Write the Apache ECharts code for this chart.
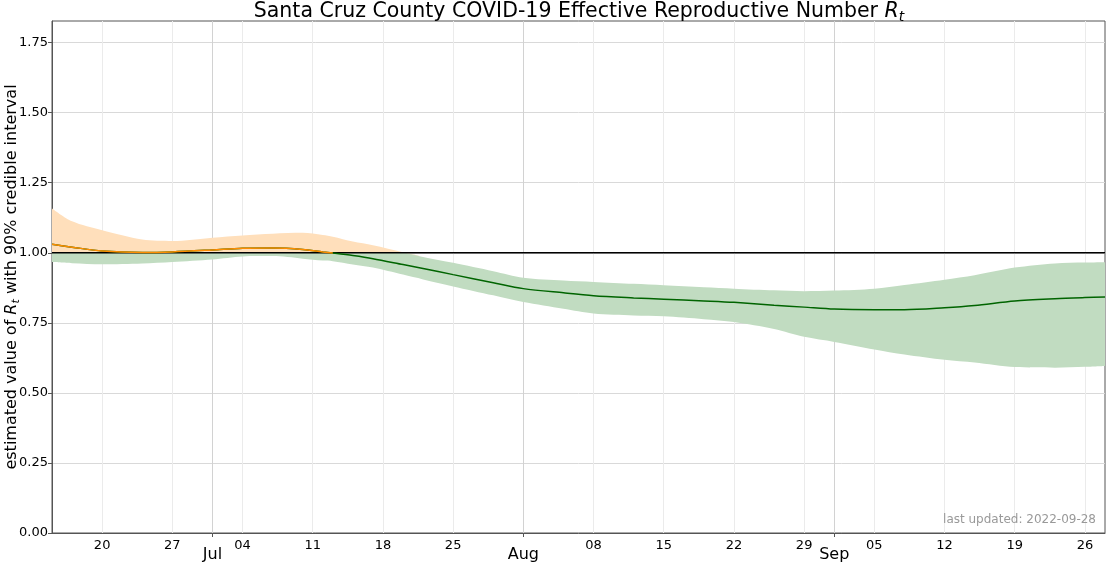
<!DOCTYPE html>
<html>
<head>
<meta charset="utf-8">
<script src="https://cdn.jsdelivr.net/npm/echarts@6/dist/echarts.min.js"></script>
<style>
  html, body { margin: 0; padding: 0; background: #fff; }
  #rt-chart { width: 1110px; height: 563px; }
</style>
</head>
<body>
<div id="rt-chart"></div>
<script>
  // days since 2022-06-15
  const startDate = '2022-06-15'
  const numDays = 106
  const dayOffsets = [0, 2, 5, 9, 12, 16, 19, 22, 25, 27, 28, 30, 32, 35, 37, 40, 44, 47, 51, 54, 58, 61, 65, 68, 72, 75, 78, 82, 85, 89, 92, 96, 100, 103, 105]
  const rtMedian = [1.030, 1.020, 1.006, 1.001, 1.003, 1.010, 1.016, 1.017, 1.012, 1.003, 0.999, 0.990, 0.979, 0.958, 0.944, 0.922, 0.893, 0.872, 0.857, 0.847, 0.839, 0.834, 0.828, 0.823, 0.813, 0.806, 0.799, 0.797, 0.797, 0.804, 0.812, 0.828, 0.836, 0.840, 0.842]
  const rtUpper = [1.158, 1.112, 1.080, 1.047, 1.042, 1.054, 1.062, 1.068, 1.071, 1.063, 1.057, 1.040, 1.027, 1.002, 0.985, 0.964, 0.934, 0.911, 0.901, 0.896, 0.889, 0.884, 0.877, 0.872, 0.866, 0.863, 0.865, 0.872, 0.885, 0.904, 0.920, 0.947, 0.962, 0.965, 0.966]
  const rtLower = [0.967, 0.963, 0.959, 0.962, 0.967, 0.976, 0.987, 0.988, 0.979, 0.972, 0.970, 0.958, 0.947, 0.922, 0.905, 0.880, 0.848, 0.824, 0.800, 0.783, 0.776, 0.773, 0.763, 0.753, 0.728, 0.700, 0.682, 0.655, 0.637, 0.618, 0.608, 0.592, 0.590, 0.593, 0.596]
  const threshold = 1

  const weekTicks = [5, 12, 19, 26, 33, 40, 54, 61, 68, 75, 82, 89, 96, 103]
  const monthTicks = [16, 47, 78]
  const monthNames = ['Jan', 'Feb', 'Mar', 'Apr', 'May', 'Jun', 'Jul', 'Aug', 'Sep', 'Oct', 'Nov', 'Dec']
  const yTicks = [0, 0.25, 0.5, 0.75, 1.0, 1.25, 1.5, 1.75]

  const fontFamily = 'DejaVu Sans'
  const base = new Date(startDate + 'T00:00:00Z').getTime()
  function dayToDate(d) {
    return new Date(base + d * 86400000)
  }
  function dayName(d) {
    return dayToDate(d).toISOString().slice(0, 10)
  }

  let categories = []
  for (let d = 0; d < numDays; d++) {
    categories.push(dayName(d))
  }

  let lowerData = []
  let greenData = []
  let orangeData = []
  let medianData = []
  let medianAboveData = []
  for (let i = 0; i < dayOffsets.length; i++) {
    let c = dayName(dayOffsets[i])
    let top = Math.min(rtUpper[i], threshold)
    lowerData.push([c, rtLower[i]])
    greenData.push([c, top - rtLower[i]])
    orangeData.push([c, Math.max(rtUpper[i] - threshold, 0)])
    medianData.push([c, rtMedian[i]])
    if (i === 0 || rtMedian[i - 1] >= threshold) {
      medianAboveData.push([c, rtMedian[i]])
    }
  }
  let thresholdData = [[categories[0], threshold], [categories[numDays - 1], threshold]]

  function isWeek(index) {
    return weekTicks.indexOf(index) >= 0
  }
  function isMonth(index) {
    return monthTicks.indexOf(index) >= 0
  }

  let chart = echarts.init(document.getElementById('rt-chart'))
  let option = {
    animation: false,
    textStyle: {fontFamily: fontFamily},
    grid: {
      left: 52,
      right: 5,
      top: 21,
      bottom: 30,
      containLabel: false,
      outerBoundsMode: 'none',
      show: true,
      borderColor: '#555',
      borderWidth: 1
    },
    graphic: [
      {
        type: 'text',
        x: 579,
        y: 0,
        z: 10,
        style: {
          text: '{a|Santa Cruz County COVID-19 Effective Reproductive Number }{r|R}{s|t}',
          align: 'center',
          verticalAlign: 'top',
          rich: {
            a: {fontSize: 20.5, fontFamily: fontFamily, fill: '#000', lineHeight: 24},
            r: {fontSize: 20.5, fontFamily: fontFamily, fontStyle: 'italic', fill: '#000', lineHeight: 24},
            s: {fontSize: 14, fontFamily: fontFamily, fontStyle: 'italic', fill: '#000', lineHeight: 12, verticalAlign: 'bottom'}
          }
        }
      },
      {
        // y axis title, rotated
        type: 'text',
        x: 12,
        y: 277,
        rotation: Math.PI / 2,
        z: 10,
        style: {
          text: '{a|estimated value of }{r|R}{s|t}{a| with 90% credible interval}',
          align: 'center',
          verticalAlign: 'middle',
          rich: {
            a: {fontSize: 16, fontFamily: fontFamily, fill: '#000', lineHeight: 20},
            r: {fontSize: 16, fontFamily: fontFamily, fontStyle: 'italic', fill: '#000', lineHeight: 20},
            s: {fontSize: 11, fontFamily: fontFamily, fontStyle: 'italic', fill: '#000', lineHeight: 10, verticalAlign: 'bottom'}
          }
        }
      },
      {
        type: 'text',
        right: 14,
        top: 514,
        z: 10,
        style: {
          text: 'last updated: 2022-09-28',
          fill: '#999',
          font: '12px "DejaVu Sans"'
        }
      }
    ],
    xAxis: [
      {
        type: 'category',
        data: categories,
        boundaryGap: false,
        axisLine: {lineStyle: {color: '#555', width: 1}},
        axisTick: {show: false},
        axisLabel: {
          interval: isWeek,
          color: '#000',
          fontSize: 13,
          margin: 6,
          formatter: function(v) {
            return v.slice(8, 10)
          }
        },
        splitLine: {show: true, interval: isWeek, lineStyle: {color: '#ebebeb', width: 1}}
      },
      {
        type: 'category',
        data: categories,
        boundaryGap: false,
        position: 'bottom',
        axisLine: {show: false},
        axisTick: {show: true, interval: isMonth, length: 4, lineStyle: {color: '#555'}},
        axisLabel: {
          interval: isMonth,
          color: '#000',
          fontSize: 16,
          margin: 14,
          formatter: function(v) {
            return monthNames[parseInt(v.slice(5, 7), 10) - 1]
          }
        },
        splitLine: {show: true, interval: isMonth, lineStyle: {color: '#d2d2d2', width: 1}}
      }
    ],
    yAxis: {
      type: 'value',
      min: 0,
      max: 1.827,
      axisLine: {show: true, lineStyle: {color: '#555', width: 1}},
      axisTick: {show: true, length: 4, customValues: yTicks, lineStyle: {color: '#555'}},
      axisLabel: {
        customValues: yTicks,
        color: '#000',
        fontSize: 13,
        margin: 4,
        formatter: function(v) {
          return v.toFixed(2)
        }
      },
      splitLine: {show: true, lineStyle: {color: '#d9d9d9', width: 1}}
    },
    series: [
      {
        name: 'base',
        type: 'line',
        stack: 'band',
        smooth: 0.3,
        data: lowerData,
        symbol: 'none',
        lineStyle: {opacity: 0},
        silent: true
      },
      {
        name: 'below',
        type: 'line',
        stack: 'band',
        smooth: 0.3,
        data: greenData,
        symbol: 'none',
        lineStyle: {opacity: 0},
        areaStyle: {color: '#c1dcc1', opacity: 1},
        silent: true
      },
      {
        name: 'above',
        type: 'line',
        stack: 'band',
        smooth: 0.3,
        data: orangeData,
        symbol: 'none',
        lineStyle: {opacity: 0},
        areaStyle: {color: '#ffdfbb', opacity: 1},
        silent: true
      },
      {
        name: 'threshold',
        type: 'line',
        data: thresholdData,
        symbol: 'none',
        silent: true,
        lineStyle: {color: '#000', width: 1.5},
        z: 3
      },
      {
        name: 'Rt',
        type: 'line',
        smooth: 0.3,
        data: medianData,
        symbol: 'none',
        lineStyle: {width: 1.5, color: '#006400'},
        z: 5
      },
      {
        name: 'Rt above 1',
        type: 'line',
        smooth: 0.3,
        data: medianAboveData,
        symbol: 'none',
        lineStyle: {width: 1.5, color: '#ff8c00'},
        z: 6
      }
    ]
  }
  chart.setOption(option)
</script>
</body>
</html>
